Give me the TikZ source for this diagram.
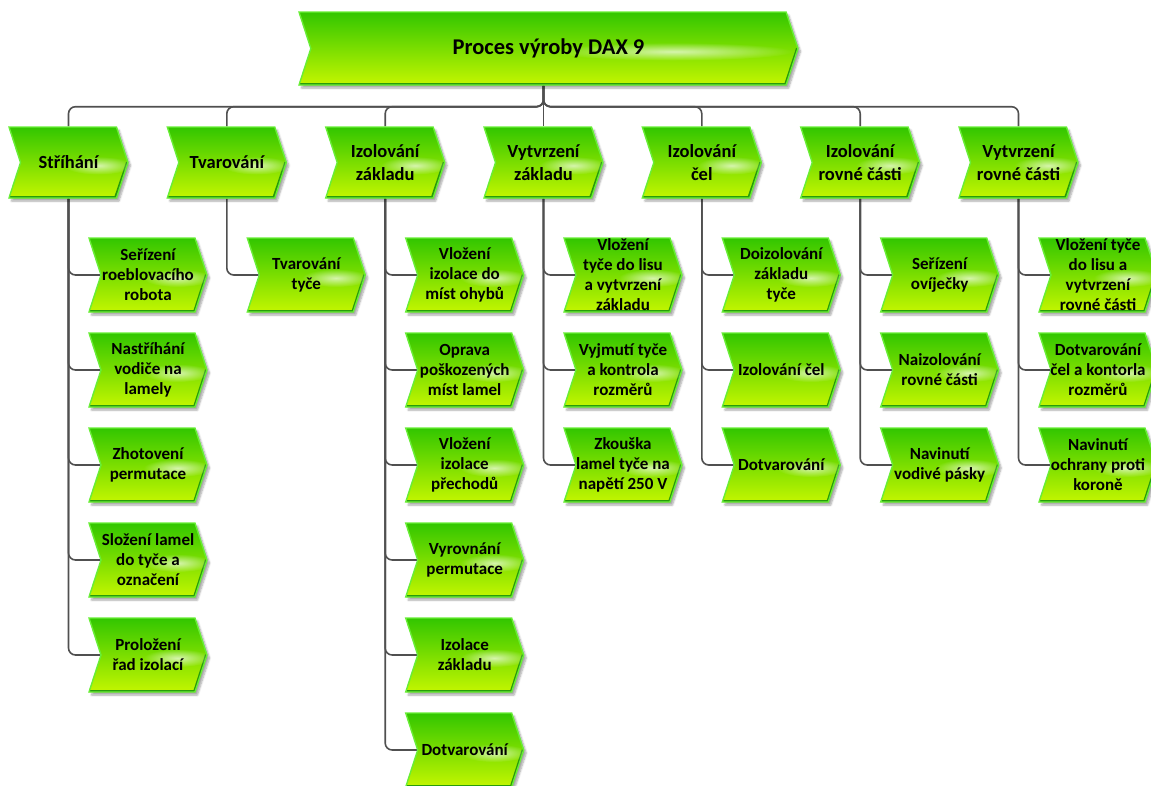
\documentclass[tikz,border=0pt]{standalone}
\usepackage{fontspec}
\setmainfont{Carlito}
\usetikzlibrary{shapes.symbols,shadows.blur,fadings,backgrounds,calc}

\definecolor{gTop}{RGB}{50,198,0}
\definecolor{gMid}{RGB}{122,222,0}
\definecolor{gBot}{RGB}{196,246,0}
\definecolor{gRim}{RGB}{104,238,54}
\definecolor{gDark}{RGB}{40,156,10}
\definecolor{wire}{RGB}{80,80,80}

\tikzfading[name=glow, inner color=transparent!10, outer color=transparent!100]

\tikzset{
  fnbase/.style={shape=signal, signal to=east, signal from=west,
    signal pointer angle=144, inner sep=0pt,
    top color=gTop, middle color=gMid, bottom color=gBot,
    draw=gRim, line width=1.4pt,
    blur shadow={shadow xshift=2.5pt, shadow yshift=-3pt, shadow blur steps=6, shadow opacity=35},
    path picture={
      \draw[gDark, line width=4pt, line join=round]
        (path picture bounding box.south west)
        -- ([xshift=-12pt]path picture bounding box.south east)
        -- (path picture bounding box.east);
      \fill[white, opacity=0.75, path fading=glow]
        ($(path picture bounding box.center)!0.5!(path picture bounding box.east)+(0,-3)$)
        ellipse [x radius=\glowrx, y radius=9];
    }},
  fn/.style={fnbase, minimum width=119, minimum height=71},
  sub/.style={fnbase, minimum width=118, minimum height=74},
  head/.style={fnbase, minimum width=499, minimum height=73},
  hdtxt/.style={font=\bfseries\fontsize{22.5}{26}\selectfont, text=black, inner sep=0pt},
  fntxt/.style={font=\bfseries\fontsize{18.5}{22.5}\selectfont, align=center, text=black, inner sep=0pt},
  subtxt/.style={font=\bfseries\fontsize{17}{20}\selectfont, align=center, text=black, inner sep=0pt},
  link/.style={draw=wire, line width=1.6pt, rounded corners=7pt},
}
\newcommand{\glowrx}{34}

\begin{document}
\begin{tikzpicture}[x=1pt,y=1pt]
\useasboundingbox (0,0) rectangle (1151,-785);

% process head
\renewcommand{\glowrx}{120}
\node[head, label={[hdtxt]center:Proces výroby DAX 9}] (top) at (548.5,-48.5) {};
\renewcommand{\glowrx}{34}

% main functions
\node[fn, label={[fntxt]center:Stříhání}] (f1) at (68.5,-162.5) {};
\node[fn, label={[fntxt]center:Tvarování}] (f2) at (226.8,-162.5) {};
\node[fn, label={[fntxt]center:Izolování\\základu}] (f3) at (385.2,-162.5) {};
\node[fn, label={[fntxt]center:Vytvrzení\\základu}] (f4) at (543.5,-162.5) {};
\node[fn, label={[fntxt]center:Izolování\\čel}] (f5) at (701.8,-162.5) {};
\node[fn, label={[fntxt]center:Izolování\\rovné části}] (f6) at (860.2,-162.5) {};
\node[fn, label={[fntxt]center:Vytvrzení\\rovné části}] (f7) at (1018.5,-162.5) {};

% Stříhání
\node[sub, label={[subtxt]center:Seřízení\\roeblovacího\\robota}] (a1) at (148,-275) {};
\node[sub, label={[subtxt]center:Nastříhání\\vodiče na\\lamely}] (a2) at (148,-370) {};
\node[sub, label={[subtxt]center:Zhotovení\\permutace}] (a3) at (148,-465) {};
\node[sub, label={[subtxt]center:Složení lamel\\do tyče a\\označení}] (a4) at (148,-560) {};
\node[sub, label={[subtxt]center:Proložení\\řad izolací}] (a5) at (148,-655) {};

% Tvarování
\node[sub, label={[subtxt]center:Tvarování\\tyče}] (b1) at (306.3,-275) {};

% Izolování základu
\node[sub, label={[subtxt]center:Vložení\\izolace do\\míst ohybů}] (c1) at (464.7,-275) {};
\node[sub, label={[subtxt]center:Oprava\\poškozených\\míst lamel}] (c2) at (464.7,-370) {};
\node[sub, label={[subtxt]center:Vložení\\izolace\\přechodů}] (c3) at (464.7,-465) {};
\node[sub, label={[subtxt]center:Vyrovnání\\permutace}] (c4) at (464.7,-560) {};
\node[sub, label={[subtxt]center:Izolace\\základu}] (c5) at (464.7,-655) {};
\node[sub, label={[subtxt]center:Dotvarování}] (c6) at (464.7,-750) {};

% Vytvrzení základu
\node[sub, label={[subtxt]center:Vložení\\tyče do lisu\\a vytvrzení\\základu}] (d1) at (623,-275) {};
\node[sub, label={[subtxt]center:Vyjmutí tyče\\a kontrola\\rozměrů}] (d2) at (623,-370) {};
\node[sub, label={[subtxt]center:Zkouška\\lamel tyče na\\napětí 250 V}] (d3) at (623,-465) {};

% Izolování čel
\node[sub, label={[subtxt]center:Doizolování\\základu\\tyče}] (e1) at (781.3,-275) {};
\node[sub, label={[subtxt]center:Izolování čel}] (e2) at (781.3,-370) {};
\node[sub, label={[subtxt]center:Dotvarování}] (e3) at (781.3,-465) {};

% Izolování rovné části
\node[sub, label={[subtxt]center:Seřízení\\ovíječky}] (g1) at (939.7,-275) {};
\node[sub, label={[subtxt]center:Naizolování\\rovné části}] (g2) at (939.7,-370) {};
\node[sub, label={[subtxt]center:Navinutí\\vodivé pásky}] (g3) at (939.7,-465) {};

% Vytvrzení rovné části
\node[sub, label={[subtxt]center:Vložení tyče\\do lisu a\\vytvrzení\\rovné části}] (h1) at (1098,-275) {};
\node[sub, label={[subtxt]center:Dotvarování\\čel a kontorla\\rozměrů}] (h2) at (1098,-370) {};
\node[sub, label={[subtxt]center:Navinutí\\ochrany proti\\koroně}] (h3) at (1098,-465) {};

\begin{scope}[on background layer]
  % head to main functions
  \foreach \f in {f1,f2,f3,f4,f5,f6,f7}
    \draw[link] ([xshift=-5pt]top.south) -- ++(0,-21) -| (\f.north);
  % main functions to their steps
  \foreach \p/\c in {f1/a1,f1/a2,f1/a3,f1/a4,f1/a5,
                     f2/b1,
                     f3/c1,f3/c2,f3/c3,f3/c4,f3/c5,f3/c6,
                     f4/d1,f4/d2,f4/d3,
                     f5/e1,f5/e2,f5/e3,
                     f6/g1,f6/g2,f6/g3,
                     f7/h1,f7/h2,f7/h3}
    \draw[link] (\p.south) |- (\c.west);
\end{scope}
\end{tikzpicture}
\end{document}
